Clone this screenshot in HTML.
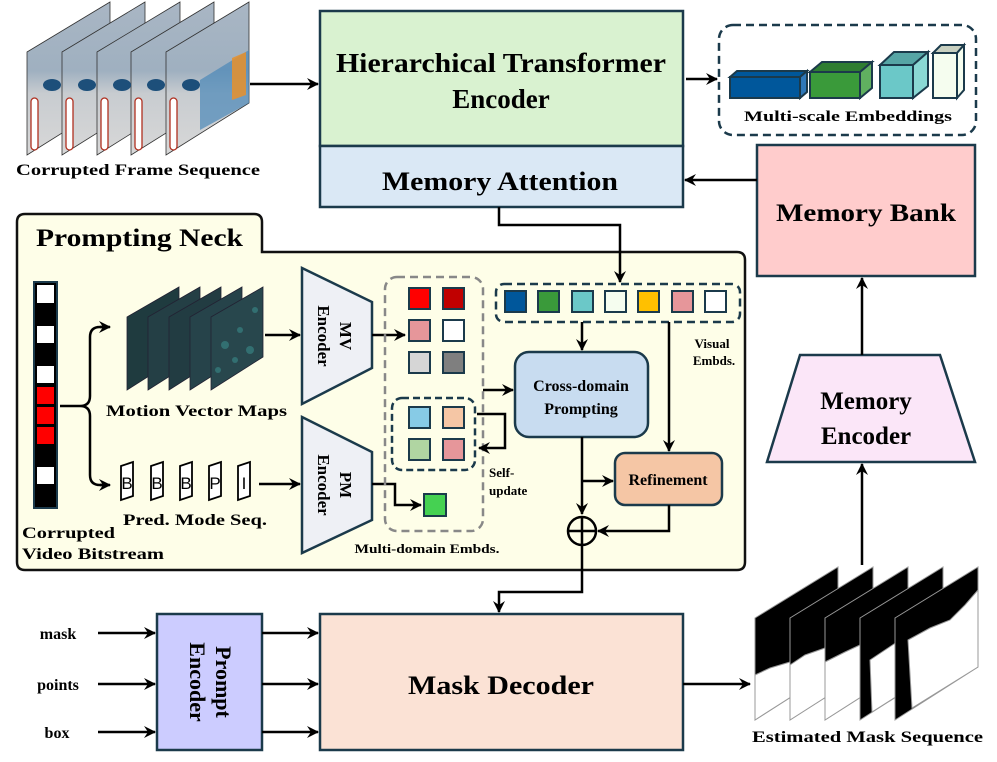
<!DOCTYPE html>
<html><head><meta charset="utf-8"><style>
html,body{margin:0;padding:0;background:#fff;}
svg{display:block;font-family:"Liberation Serif",serif;font-weight:bold;}
</style></head><body>
<svg width="997" height="762" viewBox="0 0 997 762" xmlns="http://www.w3.org/2000/svg">
<defs>
<marker id="a" viewBox="0 0 12 12" refX="11" refY="6" markerWidth="12" markerHeight="12" markerUnits="userSpaceOnUse" orient="auto">
<path d="M0,0 L12,6 L0,12 L4,6 Z" fill="#000"/></marker>
<linearGradient id="fg" x1="0" y1="0" x2="0" y2="1"><stop offset="0" stop-color="#a9b6c4"/><stop offset="0.45" stop-color="#9fb0c0"/><stop offset="0.6" stop-color="#c8ccd0"/><stop offset="1" stop-color="#d8d8d8"/></linearGradient>
</defs>

<!-- Corrupted frames -->
<g stroke="#333" stroke-width="0.8">
<polygon points="27,52 110,2 110,103 27,155" fill="url(#fg)"/>
<polygon points="62,52 145,2 145,103 62,155" fill="url(#fg)"/>
<polygon points="97,52 180,2 180,103 97,155" fill="url(#fg)"/>
<polygon points="131,52 214,2 214,103 131,155" fill="url(#fg)"/>
<polygon points="166,52 249,2 249,103 166,155" fill="url(#fg)"/>
</g>
<polygon points="200,80 249,50 249,103 200,130" fill="#4a88b8" opacity="0.7"/>
<polygon points="232,58 246,52 246,95 232,100" fill="#e8902a" opacity="0.85"/>
<g fill="#fff" stroke="#b03020" stroke-width="1.3">
<rect x="31" y="98" width="7" height="52" rx="3.5"/><rect x="66" y="98" width="7" height="52" rx="3.5"/><rect x="101" y="98" width="7" height="52" rx="3.5"/><rect x="135" y="98" width="7" height="52" rx="3.5"/><rect x="170" y="98" width="7" height="52" rx="3.5"/>
</g>
<g fill="#1d4f7a"><ellipse cx="52" cy="85" rx="9" ry="6"/><ellipse cx="87" cy="85" rx="9" ry="6"/><ellipse cx="122" cy="85" rx="9" ry="6"/><ellipse cx="156" cy="85" rx="9" ry="6"/><ellipse cx="191" cy="85" rx="9" ry="6"/></g>
<text x="16" y="175" font-size="16" textLength="244" lengthAdjust="spacingAndGlyphs">Corrupted Frame Sequence</text>
<line x1="250" y1="84" x2="318" y2="84" stroke="#000" stroke-width="2.5" marker-end="url(#a)"/>

<!-- HTE -->
<rect x="320" y="11" width="363" height="135" fill="#d9f2d0" stroke="#1b3a4b" stroke-width="2.5"/>
<text x="501" y="72" font-size="27" text-anchor="middle" textLength="330" lengthAdjust="spacingAndGlyphs">Hierarchical Transformer</text>
<text x="501" y="108" font-size="27" text-anchor="middle">Encoder</text>
<rect x="320" y="146" width="363" height="61" fill="#dae8f5" stroke="#1b3a4b" stroke-width="2.5"/>
<text x="500" y="190" font-size="26" text-anchor="middle" textLength="236" lengthAdjust="spacingAndGlyphs">Memory Attention</text>
<line x1="686" y1="79" x2="717" y2="79" stroke="#000" stroke-width="2.5" marker-end="url(#a)"/>

<!-- Multi-scale -->
<rect x="719" y="25" width="257" height="110" rx="14" fill="none" stroke="#1b3a4b" stroke-width="2.5" stroke-dasharray="8,5"/>
<g stroke="#1b3a4b" stroke-width="2">
<polygon points="730,77 737,71 807,71 800,77" fill="#00579b"/><polygon points="800,77 807,71 807,92 800,98" fill="#2f78b8"/><rect x="730" y="77" width="70" height="21" fill="#00579b"/>
<polygon points="810,72 822,62 872,62 860,72" fill="#2e7d32"/><polygon points="860,72 872,62 872,88 860,98" fill="#60b060"/><rect x="810" y="72" width="50" height="26" fill="#3a9a3a"/>
<polygon points="880,65 894,52 928,52 913,65" fill="#56a5a5"/><polygon points="913,65 928,52 928,86 913,98" fill="#8ad8d4"/><rect x="880" y="65" width="33" height="33" fill="#6bc8c8"/>
<polygon points="933,53 941,45 964,45 957,53" fill="#c8d0c0"/><polygon points="957,53 964,45 964,90 957,98" fill="#f5fdef"/><rect x="933" y="53" width="24" height="45" fill="#f5fdef"/>
</g>
<text x="848" y="121" font-size="15" text-anchor="middle" textLength="208" lengthAdjust="spacingAndGlyphs">Multi-scale Embeddings</text>

<!-- Memory Bank -->
<rect x="757" y="145" width="218" height="131" fill="#ffcccc" stroke="#1b3a4b" stroke-width="2.5"/>
<text x="866" y="221" font-size="25" text-anchor="middle" textLength="180" lengthAdjust="spacingAndGlyphs">Memory Bank</text>
<line x1="757" y1="180" x2="685" y2="180" stroke="#000" stroke-width="2.5" marker-end="url(#a)"/>

<!-- Memory Encoder -->
<polygon points="800,355 940,355 975,462 767,462" fill="#fbe6f8" stroke="#1b3a4b" stroke-width="2.5"/>
<text x="866" y="409" font-size="25" text-anchor="middle">Memory</text>
<text x="866" y="444" font-size="25" text-anchor="middle">Encoder</text>
<line x1="862" y1="355" x2="862" y2="278" stroke="#000" stroke-width="2.5" marker-end="url(#a)"/>
<line x1="862" y1="565" x2="862" y2="464" stroke="#000" stroke-width="2.5" marker-end="url(#a)"/>

<!-- Prompting Neck -->
<path d="M17,570 L17,222 Q17,214 25,214 L254,214 Q262,214 262,222 L262,252 L737,252 Q745,252 745,260 L745,562 Q745,570 737,570 Z" fill="#fefee8"/>
<path d="M25,570 Q17,570 17,562 L17,222 Q17,214 25,214 L254,214 Q262,214 262,222 L262,252 L737,252 Q745,252 745,260 L745,562 Q745,570 737,570 Z" fill="none" stroke="#111" stroke-width="2.5"/>
<text x="36" y="246" font-size="25" textLength="207" lengthAdjust="spacingAndGlyphs">Prompting Neck</text>

<!-- Bitstream -->
<rect x="34" y="282" width="23" height="226" fill="#000" stroke="#1b3a4b" stroke-width="2"/>
<g fill="#fff"><rect x="37" y="285" width="17" height="18"/><rect x="37" y="326" width="17" height="17"/><rect x="37" y="366" width="17" height="17"/><rect x="37" y="467" width="17" height="17"/></g>
<g fill="#f00"><rect x="37" y="387" width="17" height="17"/><rect x="37" y="407" width="17" height="17"/><rect x="37" y="427" width="17" height="17"/></g>
<path d="M60,406 L80,406 Q90,406 90,396 L90,337 Q90,327 100,327 L108,327 M80,406 Q90,406 90,416 L90,475 Q90,485 100,485 L108,485" fill="none" stroke="#000" stroke-width="2.5"/>
<line x1="100" y1="327" x2="110" y2="327" stroke="#000" stroke-width="2.5" marker-end="url(#a)"/>
<line x1="100" y1="485" x2="110" y2="485" stroke="#000" stroke-width="2.5" marker-end="url(#a)"/>
<text x="22" y="538" font-size="16" textLength="93" lengthAdjust="spacingAndGlyphs">Corrupted</text>
<text x="22" y="559" font-size="16" textLength="142" lengthAdjust="spacingAndGlyphs">Video Bitstream</text>

<!-- MV maps -->
<g stroke="#223" stroke-width="0.8">
<polygon points="127,317 179,287 179,357 127,390" fill="#1f3b3f"/>
<polygon points="148,317 200,287 200,357 148,390" fill="#243f45"/>
<polygon points="169,317 221,287 221,357 169,390" fill="#223c42"/>
<polygon points="190,317 242,287 242,357 190,390" fill="#26434a"/>
<polygon points="211,317 263,287 263,357 211,390" fill="#28474d"/>
</g>
<g fill="#3a8a8a" opacity="0.6"><circle cx="225" cy="345" r="4"/><circle cx="240" cy="330" r="3"/><circle cx="250" cy="350" r="4"/><circle cx="218" cy="370" r="3"/><circle cx="235" cy="360" r="3"/><circle cx="255" cy="310" r="3"/></g>
<text x="106" y="416" font-size="16" textLength="181" lengthAdjust="spacingAndGlyphs">Motion Vector Maps</text>
<line x1="265" y1="335" x2="300" y2="335" stroke="#000" stroke-width="2.5" marker-end="url(#a)"/>

<!-- Pred mode letters -->
<g fill="#fff" stroke="#000" stroke-width="1.8">
<polygon points="121,466 133,462 133,496 121,500"/><polygon points="151,466 163,462 163,496 151,500"/><polygon points="180,466 192,462 192,496 180,500"/><polygon points="209,466 221,462 221,496 209,500"/><polygon points="238,466 250,462 250,496 238,500"/>
</g>
<g font-family="Liberation Sans,sans-serif" font-weight="normal" font-size="17" text-anchor="middle">
<text x="127" y="489">B</text><text x="157" y="489">B</text><text x="186" y="489">B</text><text x="215" y="489">P</text><text x="244" y="489">I</text></g>
<text x="123" y="525" font-size="16" textLength="144" lengthAdjust="spacingAndGlyphs">Pred. Mode Seq.</text>
<line x1="259" y1="484" x2="300" y2="484" stroke="#000" stroke-width="2.5" marker-end="url(#a)"/>

<!-- MV / PM encoders -->
<polygon points="302,268 372,302 372,368 302,404" fill="#eef0f5" stroke="#1b3a4b" stroke-width="2.5"/>
<text transform="translate(340,336) rotate(90)" font-size="17" text-anchor="middle">MV</text>
<text transform="translate(318,336) rotate(90)" font-size="17" text-anchor="middle">Encoder</text>
<polygon points="302,417 372,452 372,520 302,553" fill="#eef0f5" stroke="#1b3a4b" stroke-width="2.5"/>
<text transform="translate(340,485) rotate(90)" font-size="17" text-anchor="middle">PM</text>
<text transform="translate(318,485) rotate(90)" font-size="17" text-anchor="middle">Encoder</text>
<line x1="372" y1="335" x2="405" y2="335" stroke="#000" stroke-width="2.5" marker-end="url(#a)"/>
<path d="M372,484 L395,484 L395,505 L421,505" fill="none" stroke="#000" stroke-width="2.5" marker-end="url(#a)"/>

<!-- Multi-domain -->
<rect x="385" y="277" width="98" height="254" rx="12" fill="none" stroke="#888" stroke-width="2.5" stroke-dasharray="8,5"/>
<rect x="392" y="398" width="83" height="72" rx="10" fill="none" stroke="#1b3a4b" stroke-width="2.5" stroke-dasharray="7,4"/>
<g stroke="#1b3a4b" stroke-width="2">
<rect x="409" y="288" width="21" height="21" fill="#f00"/><rect x="443" y="288" width="21" height="21" fill="#c00000"/>
<rect x="409" y="320" width="21" height="21" fill="#e6969a"/><rect x="443" y="320" width="21" height="21" fill="#fff"/>
<rect x="409" y="352" width="21" height="21" fill="#d6d6d6"/><rect x="443" y="352" width="21" height="21" fill="#7f7f7f"/>
<rect x="409" y="407" width="21" height="21" fill="#87cbe6"/><rect x="443" y="407" width="21" height="21" fill="#f5c6a5"/>
<rect x="409" y="439" width="21" height="21" fill="#b0d5a2"/><rect x="443" y="439" width="21" height="21" fill="#e6969a"/>
<rect x="424" y="494" width="22" height="22" fill="#45d152"/>
</g>
<text x="427" y="553" font-size="12.5" text-anchor="middle" textLength="145" lengthAdjust="spacingAndGlyphs">Multi-domain Embds.</text>
<line x1="483" y1="390" x2="513" y2="390" stroke="#000" stroke-width="2.5" marker-end="url(#a)"/>
<path d="M477,414 L505,414 L505,448 L479,448" fill="none" stroke="#000" stroke-width="2.5" marker-end="url(#a)"/>
<text x="489" y="477" font-size="13">Self-</text>
<text x="489" y="495" font-size="13">update</text>

<!-- Visual embds -->
<rect x="496" y="284" width="244" height="38" rx="8" fill="none" stroke="#1b3a4b" stroke-width="2.5" stroke-dasharray="8,5"/>
<g stroke="#1b3a4b" stroke-width="2">
<rect x="505" y="291" width="21" height="21" fill="#00579b"/><rect x="538" y="291" width="21" height="21" fill="#3a9a3a"/>
<rect x="572" y="291" width="21" height="21" fill="#6bc8c8"/><rect x="605" y="291" width="21" height="21" fill="#f5fdef"/>
<rect x="638" y="291" width="21" height="21" fill="#ffc000"/><rect x="672" y="291" width="21" height="21" fill="#e6969a"/>
<rect x="705" y="291" width="21" height="21" fill="#fff"/>
</g>
<text x="712" y="348" font-size="13" text-anchor="middle">Visual</text>
<text x="714" y="365" font-size="13" text-anchor="middle">Embds.</text>
<path d="M499,207 L499,225 L620,225 L620,282" fill="none" stroke="#000" stroke-width="2.5" marker-end="url(#a)"/>
<line x1="582" y1="322" x2="582" y2="350" stroke="#000" stroke-width="2.5" marker-end="url(#a)"/>
<line x1="669" y1="322" x2="669" y2="451" stroke="#000" stroke-width="2.5" marker-end="url(#a)"/>

<!-- Cross-domain prompting -->
<rect x="515" y="352" width="133" height="85" rx="14" fill="#c8dcf0" stroke="#1b3a4b" stroke-width="2.5"/>
<text x="581" y="391" font-size="16" text-anchor="middle">Cross-domain</text>
<text x="581" y="414" font-size="16" text-anchor="middle">Prompting</text>
<!-- Refinement -->
<rect x="615" y="453" width="107" height="52" rx="10" fill="#f5c6a5" stroke="#1b3a4b" stroke-width="2.5"/>
<text x="668" y="485" font-size="16" text-anchor="middle">Refinement</text>
<line x1="582" y1="437" x2="582" y2="514" stroke="#000" stroke-width="2.5" marker-end="url(#a)"/>
<line x1="582" y1="481" x2="613" y2="481" stroke="#000" stroke-width="2.5" marker-end="url(#a)"/>
<path d="M669,505 L669,531 L598,531" fill="none" stroke="#000" stroke-width="2.5" marker-end="url(#a)"/>
<circle cx="582" cy="531" r="14" fill="none" stroke="#000" stroke-width="2.5"/>
<line x1="568" y1="531" x2="596" y2="531" stroke="#000" stroke-width="2.5"/>
<line x1="582" y1="517" x2="582" y2="545" stroke="#000" stroke-width="2.5"/>
<path d="M582,545 L582,592 L499,592 L499,612" fill="none" stroke="#000" stroke-width="2.5" marker-end="url(#a)"/>

<!-- Prompt encoder / Mask decoder -->
<rect x="157" y="614" width="105" height="136" fill="#ccccff" stroke="#1b3a4b" stroke-width="2.5"/>
<text transform="translate(216,682) rotate(90)" font-size="22" text-anchor="middle">Prompt</text>
<text transform="translate(190,682) rotate(90)" font-size="22" text-anchor="middle">Encoder</text>
<rect x="320" y="614" width="363" height="136" fill="#fbe2d5" stroke="#1b3a4b" stroke-width="2.5"/>
<text x="501" y="694" font-size="26" text-anchor="middle" textLength="186" lengthAdjust="spacingAndGlyphs">Mask Decoder</text>
<g font-size="16" text-anchor="middle">
<text x="58" y="639">mask</text><text x="58" y="690">points</text><text x="57" y="738">box</text></g>
<g stroke="#000" stroke-width="2.5">
<line x1="98" y1="633" x2="155" y2="633" marker-end="url(#a)"/>
<line x1="98" y1="684" x2="155" y2="684" marker-end="url(#a)"/>
<line x1="98" y1="732" x2="155" y2="732" marker-end="url(#a)"/>
<line x1="262" y1="633" x2="318" y2="633" marker-end="url(#a)"/>
<line x1="262" y1="684" x2="318" y2="684" marker-end="url(#a)"/>
<line x1="262" y1="732" x2="318" y2="732" marker-end="url(#a)"/>
<line x1="683" y1="684" x2="750" y2="684" marker-end="url(#a)"/>
</g>

<!-- Mask sequence -->
<g stroke="#999" stroke-width="1">
<polygon points="755,618 838,567 838,667 755,720" fill="#000"/>
<polygon points="755,675 770,668 790,662 815,650 838,640 838,667 755,720" fill="#fff"/>
<polygon points="790,618 873,567 873,667 790,720" fill="#000"/>
<polygon points="790,665 805,655 825,648 850,640 873,630 873,667 790,720" fill="#fff"/>
<polygon points="825,618 908,567 908,667 825,720" fill="#000"/>
<polygon points="825,662 845,652 860,645 885,635 908,625 908,667 825,720" fill="#fff"/>
<polygon points="860,618 943,567 943,667 860,720" fill="#000"/>
<polygon points="870,660 885,650 900,640 920,630 943,618 943,667 872,712" fill="#fff"/>
<polygon points="895,618 978,567 978,667 895,720" fill="#000"/>
<polygon points="908,640 930,628 950,620 965,605 978,590 978,667 912,708" fill="#fff"/>
</g>
<text x="752" y="742" font-size="16" textLength="231" lengthAdjust="spacingAndGlyphs">Estimated Mask Sequence</text>
</svg>
</body></html>
